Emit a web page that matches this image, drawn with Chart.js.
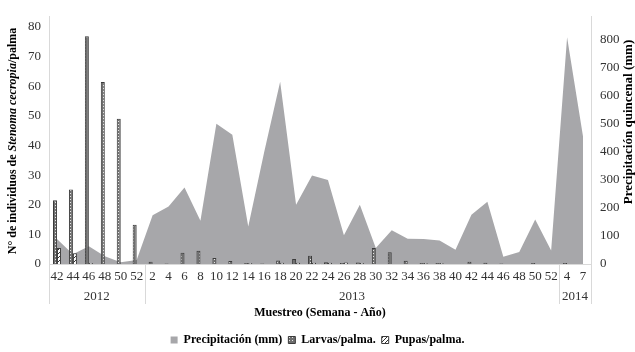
<!DOCTYPE html>
<html>
<head>
<meta charset="utf-8">
<script src="https://cdn.jsdelivr.net/npm/chart.js@4/dist/chart.umd.min.js"></script>
<style>
  html, body { margin: 0; padding: 0; background: #fff; }
  #wrap { width: 635px; height: 352px; }
</style>
</head>
<body>
<div id="wrap"><canvas id="grafico"></canvas></div>
<script>
// semanas de muestreo
var semanas = ['42', '44', '46', '48', '50', '52',
    '2', '4', '6', '8', '10', '12', '14', '16', '18', '20', '22', '24', '26',
    '28', '30', '32', '34', '36', '38', '40', '42', '44', '46', '48', '50', '52',
    '4', '7'];

// años y cuantas semanas cubre cada uno
var anios = ['2012', '2013', '2014'];
var semanasPorAnio = [6, 26, 2];

var precipitacion = [89, 35, 63, 28, 6, 14,
    174, 205, 273, 154, 500, 461, 134, 400, 650, 211, 316, 300, 103,
    211, 57, 120, 90, 89, 84, 51, 176, 222, 26, 43, 159, 48,
    809, 455];

var larvas = [21.5, 25.1, 76.8, 61.4, 49.0, 13.2,
    0.8, 0.2, 3.8, 4.5, 2.0, 1.0, 0.3, 0.2, 1.2, 1.7, 2.8, 0.6, 0.3,
    0.5, 5.4, 4.0, 1.1, 0.3, 0.3, 0, 0.8, 0.4, 0.2, 0, 0.3, 0,
    0.3, 0];

var pupas = [5.4, 3.6, 0.3, 0, 0, 0,
    0, 0, 0, 0, 0, 0, 0.3, 0, 0.4, 0.4, 0.4, 0.4, 0.5,
    0.3, 0, 0, 0, 0.3, 0.3, 0, 0, 0, 0, 0, 0, 0,
    0, 0];

var FUENTE = 'Liberation Serif';

function patronPuntos() {
    var c = document.createElement('canvas');
    c.width = 3; c.height = 3;
    var g = c.getContext('2d');
    g.fillStyle = '#6f6f6f';
    g.fillRect(0, 0, 3, 3);
    g.fillStyle = '#e6e6e6';
    g.fillRect(1, 1, 1, 1);
    return g.createPattern(c, 'repeat');
}

function patronRayas() {
    var c = document.createElement('canvas');
    c.width = 4; c.height = 4;
    var g = c.getContext('2d');
    g.fillStyle = '#ffffff';
    g.fillRect(0, 0, 4, 4);
    g.fillStyle = '#333333';
    for (var i = 0; i < 4; i++) {
        g.fillRect(i, 3 - i, 1, 1);
    }
    return g.createPattern(c, 'repeat');
}

// segundo nivel del eje x (años), separadores y titulos de ejes
var extras = {
    id: 'extras',
    afterDraw: function (chart) {
        var ctx = chart.ctx;
        var x = chart.scales.x;
        var area = chart.chartArea;
        var ancho = (area.right - area.left) / semanas.length;

        ctx.save();
        ctx.strokeStyle = '#d9d9d9';
        ctx.lineWidth = 1;
        ctx.fillStyle = '#333';
        ctx.font = '13px "' + FUENTE + '"';
        ctx.textAlign = 'center';
        ctx.textBaseline = 'middle';

        var inicio = 0;
        var bordes = [0];
        for (var i = 0; i < anios.length; i++) {
            var fin = inicio + semanasPorAnio[i];
            var xa = x.getPixelForValue(inicio) - ancho / 2;
            var xb = x.getPixelForValue(fin - 1) + ancho / 2;
            ctx.fillText(anios[i], (xa + xb) / 2, 297);
            bordes.push(fin);
            inicio = fin;
        }
        for (var j = 0; j < bordes.length; j++) {
            var xs = Math.round(area.left + bordes[j] * ancho) + 0.5;
            ctx.beginPath();
            ctx.moveTo(xs, area.bottom);
            ctx.lineTo(xs, 304);
            ctx.stroke();
        }

        // titulo eje x
        ctx.fillStyle = '#000';
        ctx.font = 'bold 12px "' + FUENTE + '"';
        ctx.fillText('Muestreo (Semana - Año)', (area.left + area.right) / 2, 313);

        // titulo eje izquierdo, con el nombre de la especie en cursiva
        var partes = [
            ['N° de individuos de ', 'bold 12px "' + FUENTE + '"'],
            ['Stenoma cecropia', 'italic bold 12px "' + FUENTE + '"'],
            ['/palma', 'bold 12px "' + FUENTE + '"']
        ];
        var total = 0;
        partes.forEach(function (p) {
            ctx.font = p[1];
            total += ctx.measureText(p[0]).width;
        });
        ctx.save();
        ctx.translate(13, 141);
        ctx.rotate(-Math.PI / 2);
        ctx.textAlign = 'left';
        var px = -total / 2;
        partes.forEach(function (p) {
            ctx.font = p[1];
            ctx.fillText(p[0], px, 0);
            px += ctx.measureText(p[0]).width;
        });
        ctx.restore();

        // titulo eje derecho
        ctx.save();
        ctx.translate(629, 122);
        ctx.rotate(-Math.PI / 2);
        ctx.font = 'bold 13px "' + FUENTE + '"';
        ctx.fillText('Precipitación quincenal (mm)', 0, 0);
        ctx.restore();

        ctx.restore();
    }
};

function drawChart() {
    var ctx = document.getElementById('grafico');
    var myChart = new Chart(ctx, {
        type: 'bar',
        data: {
            labels: semanas,
            datasets: [{
                type: 'line',
                label: 'Precipitación (mm)',
                data: precipitacion,
                yAxisID: 'y1',
                backgroundColor: '#a7a7aa',
                borderColor: '#a7a7aa',
                borderWidth: 0,
                pointRadius: 0,
                tension: 0,
                fill: 'origin',
                order: 2
            }, {
                label: 'Larvas/palma.',
                data: larvas,
                yAxisID: 'y',
                backgroundColor: patronPuntos(),
                borderColor: '#3a3a3a',
                borderWidth: 1,
                categoryPercentage: 0.5,
                barPercentage: 1,
                order: 1
            }, {
                label: 'Pupas/palma.',
                data: pupas,
                yAxisID: 'y',
                backgroundColor: patronRayas(),
                borderColor: '#3a3a3a',
                borderWidth: 1,
                categoryPercentage: 0.5,
                barPercentage: 1,
                order: 1
            }]
        },
        options: {
            responsive: true,
            maintainAspectRatio: false,
            animation: false,
            // la leyenda queda un poco mas abajo
            layout: { padding: { top: 6, left: 0, right: 0, bottom: -4 } },
            plugins: {
                tooltip: { enabled: false },
                legend: {
                    position: 'bottom',
                    labels: {
                        boxWidth: 7,
                        boxHeight: 7,
                        padding: 6,
                        color: '#000',
                        font: { family: FUENTE, size: 12, weight: 'bold' },
                        sort: function (a, b) { return a.datasetIndex - b.datasetIndex; }
                    }
                }
            },
            scales: {
                x: {
                    offset: true,
                    grid: { display: false, drawTicks: false },
                    border: { color: '#d9d9d9' },
                    ticks: {
                        autoSkip: false,
                        maxRotation: 0,
                        padding: 5,
                        color: '#333',
                        font: { family: FUENTE, size: 13 }
                    },
                    afterFit: function (s) {
                        var leyenda = s.chart.legend ? s.chart.legend.height : 0;
                        s.height = 356 - 264 - leyenda;
                    }
                },
                y: {
                    position: 'left',
                    min: 0,
                    max: 83.4,
                    grid: { display: false, drawTicks: false },
                    border: { color: '#d9d9d9' },
                    ticks: {
                        stepSize: 10,
                        includeBounds: false,
                        padding: 8,
                        color: '#333',
                        font: { family: FUENTE, size: 13 }
                    },
                    afterFit: function (s) { s.width = 49; }
                },
                y1: {
                    position: 'right',
                    min: 0,
                    max: 882,
                    grid: { display: false, drawTicks: false },
                    border: { color: '#d9d9d9' },
                    ticks: {
                        stepSize: 100,
                        includeBounds: false,
                        padding: 9,
                        color: '#333',
                        font: { family: FUENTE, size: 13 }
                    },
                    afterFit: function (s) { s.width = 44; }
                }
            }
        },
        plugins: [extras]
    });
}

drawChart();
</script>
</body>
</html>
